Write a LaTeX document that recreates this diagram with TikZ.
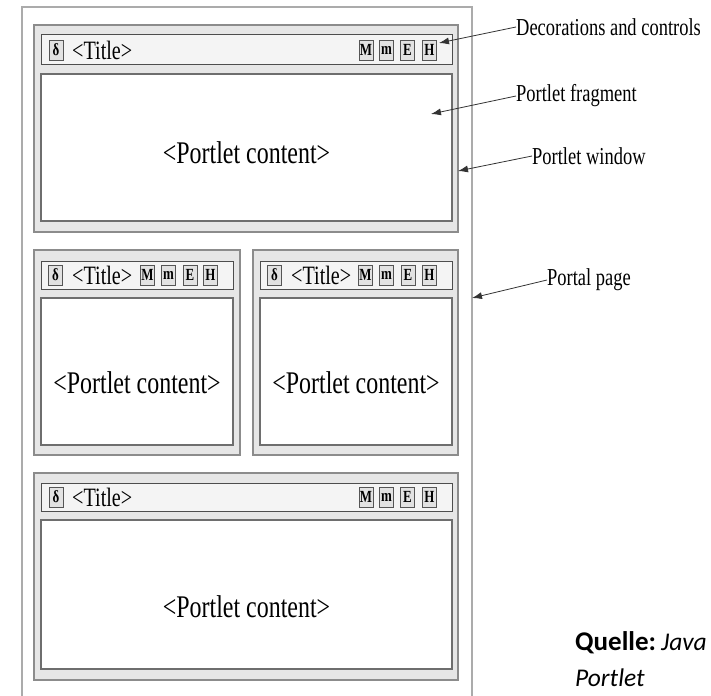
\documentclass[tikz,border=0pt]{standalone}
\usepackage{fontspec}
\setmainfont{Liberation Serif}
\newfontfamily\narrowserif[FakeStretch=0.76]{Liberation Serif}
\newfontfamily\quellefont{Carlito}
\usetikzlibrary{arrows.meta}

\definecolor{pageLine}{HTML}{ABABAB}
\definecolor{frameFill}{HTML}{E6E6E6}
\definecolor{frameLine}{HTML}{8C8C8C}
\definecolor{barFill}{HTML}{F4F4F4}
\definecolor{barLine}{HTML}{4D4D4D}
\definecolor{contentLine}{HTML}{6E6E6E}
\definecolor{iconFill}{HTML}{E2E2E2}
\definecolor{iconLine}{HTML}{555555}

% pane: style, name, left, top, right, bottom (pixel units, y downwards)
\newcommand\pane[6]{%
  \node[#1, minimum width={#5-#3}, minimum height={#6-#4}, anchor=north west] (#2) at (#3,#4) {};}

\begin{document}
\begin{tikzpicture}[x=1pt,y=-1pt,
  windowframe/.style={fill=frameFill, draw=frameLine, line width=1.3pt, inner sep=0pt, outer sep=0pt},
  titlebar/.style={fill=barFill, draw=barLine, line width=1pt, inner sep=0pt, outer sep=0pt},
  contentbox/.style={fill=white, draw=contentLine, line width=1.3pt, inner sep=0pt, outer sep=0pt},
  iconbox/.style={draw=iconLine, fill=iconFill, line width=0.8pt, minimum width=14pt,
    minimum height=20pt, inner sep=0pt, font=\narrowserif\bfseries\fontsize{17}{17}\selectfont},
  titletext/.style={anchor=west, inner sep=0pt, font=\narrowserif\fontsize{26.5}{26.5}\selectfont},
  bodytext/.style={inner sep=0pt, font=\narrowserif\fontsize{31.5}{31.5}\selectfont},
  notetext/.style={anchor=west, inner sep=0pt, font=\narrowserif\fontsize{24.3}{24.3}\selectfont},
  sourcetext/.style={anchor=base west, inner sep=0pt, font=\quellefont\fontsize{25.5}{25.5}\selectfont},
  callout/.style={draw=black!80, line width=0.8pt, -{Latex[length=10pt,width=7pt]}},
  pageborder/.style={draw=pageLine, line width=1.3pt}
]
\useasboundingbox (0,0) rectangle (711,695);

% portal page border, open at the bottom
\coordinate (pgBL) at (22,700);
\coordinate (pgTL) at (22,7);
\coordinate (pgTR) at (472,7);
\coordinate (pgBR) at (472,700);
\draw[pageborder] (pgBL) -- (pgTL) -- (pgTR) -- (pgBR);

% ---- window 1 (full width)
\pane{windowframe}{w1}{34}{25}{458}{232}
\pane{titlebar}{w1bar}{41}{35}{452}{65}
\pane{contentbox}{w1body}{41}{74}{452}{221}
\node[iconbox] (w1d) at (56,50) {δ};
\node[titletext] (w1t) at (72,50) {<Title>};
\node[iconbox] (w1M) at (366,50) {M};
\node[iconbox] (w1m) at (386.5,50) {m};
\node[iconbox] (w1E) at (407.5,50) {E};
\node[iconbox] (w1H) at (429.5,50) {H};
\node[bodytext] (w1c) at (246.5,153) {<Portlet content>};

% ---- window 2 (left half)
\pane{windowframe}{w2}{34}{250}{240}{455}
\pane{titlebar}{w2bar}{41}{261}{233}{289}
\pane{contentbox}{w2body}{41}{298}{233}{445}
\node[iconbox] (w2d) at (55.5,275) {δ};
\node[titletext] (w2t) at (72,275) {<Title>};
\node[iconbox] (w2M) at (147.5,275) {M};
\node[iconbox] (w2m) at (168.5,275) {m};
\node[iconbox] (w2E) at (190,275) {E};
\node[iconbox] (w2H) at (210.5,275) {H};
\node[bodytext] (w2c) at (137,383) {<Portlet content>};

% ---- window 3 (right half)
\pane{windowframe}{w3}{253}{250}{458}{455}
\pane{titlebar}{w3bar}{260}{261}{452}{289}
\pane{contentbox}{w3body}{260}{298}{452}{445}
\node[iconbox] (w3d) at (274.5,275) {δ};
\node[titletext] (w3t) at (291,275) {<Title>};
\node[iconbox] (w3M) at (365.5,275) {M};
\node[iconbox] (w3m) at (386.5,275) {m};
\node[iconbox] (w3E) at (408,275) {E};
\node[iconbox] (w3H) at (429.5,275) {H};
\node[bodytext] (w3c) at (356,383) {<Portlet content>};

% ---- window 4 (full width, bottom)
\pane{windowframe}{w4}{34}{473}{458}{680}
\pane{titlebar}{w4bar}{41}{483}{452}{511}
\pane{contentbox}{w4body}{41}{520}{452}{669}
\node[iconbox] (w4d) at (56,497) {δ};
\node[titletext] (w4t) at (72,497) {<Title>};
\node[iconbox] (w4M) at (366,497) {M};
\node[iconbox] (w4m) at (386.5,497) {m};
\node[iconbox] (w4E) at (407.5,497) {E};
\node[iconbox] (w4H) at (429.5,497) {H};
\node[bodytext] (w4c) at (246.5,607) {<Portlet content>};

% ---- callouts
\node[notetext] (nDeco) at (516,27) {Decorations and controls};
\node[notetext] (nFrag) at (516,96) {Portlet fragment};
\node[notetext] (nWin) at (532,156) {Portlet window};
\node[notetext] (nPage) at (547,280) {Portal page};
\coordinate (tDeco) at (439,43);
\coordinate (tFrag) at (431,114);
\coordinate (tWin) at (458,171);
\coordinate (tPage) at (472,298);
\draw[callout] (nDeco.west) -- (tDeco);
\draw[callout] (nFrag.west) -- (tFrag);
\draw[callout] (nWin.west) -- (tWin);
\draw[callout] (nPage.west) -- (tPage);

% ---- source note
\node[sourcetext] (src1) at (575,650)
  {{\bfseries\fontsize{27}{27}\selectfont Quelle:}\hspace{5pt}\textit{Java}};
\node[sourcetext] (src2) at (575,686) {\textit{Portlet}};
\end{tikzpicture}
\end{document}
